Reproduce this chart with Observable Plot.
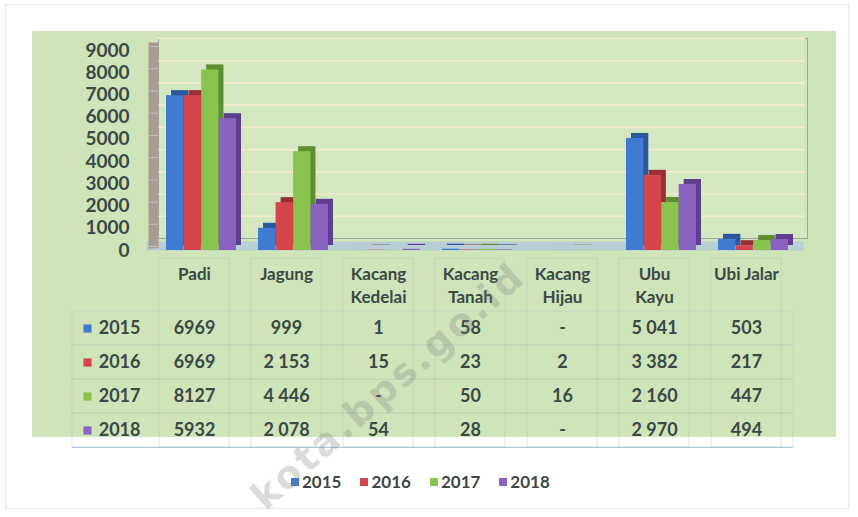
<!DOCTYPE html>
<html>
<head>
<meta charset="utf-8">
<script src="https://cdn.jsdelivr.net/npm/d3@7"></script>
<script src="https://cdn.jsdelivr.net/npm/@observablehq/plot@0.6"></script>
<style>
  html, body { margin: 0; padding: 0; background: #ffffff; }
  #page { position: relative; width: 858px; height: 517px; overflow: hidden; background: #ffffff; font-family: Lato, "Open Sans", sans-serif; }
  #border { position: absolute; left: 5px; top: 4px; width: 842px; height: 503px; border: 1px solid #e6e6e6; }
  #panel { position: absolute; left: 32px; top: 31px; width: 804px; height: 406px; background: #cfe4b9; }
  #table, #chart { position: absolute; left: 0; }
  #table { top: 255px; }
  #chart { top: 0; }
  #legend { position: absolute; left: 291px; top: 471px; display: flex; align-items: center; font-weight: 700; font-size: 17px; color: #3b4846; }
  #legend .item { display: flex; align-items: center; margin-right: 19px; }
  #legend .sw { width: 8px; height: 8px; margin-right: 3px; }
  #wm { position: absolute; left: 388px; top: 386px; transform: translate(-50%, -50%) rotate(-41.5deg); white-space: nowrap;
        font-family: "DejaVu Sans", sans-serif; font-weight: 700; font-size: 38px; letter-spacing: 3px;
        color: rgba(128,128,128,0.28); pointer-events: none; }
</style>
</head>
<body>
<div id="page">
  <div id="border"></div>
  <div id="panel"></div>
  <div id="table"></div>
  <div id="chart"></div>
  <div id="legend"></div>
  <div id="wm">kota.bps.go.id</div>
</div>
<script>
// ---- data ----
const categories = ["Padi", "Jagung", "Kacang Kedelai", "Kacang Tanah", "Kacang Hijau", "Ubu Kayu", "Ubi Jalar"];
const categoryLabels = ["Padi", "Jagung", "Kacang\nKedelai", "Kacang\nTanah", "Kacang\nHijau", "Ubu\nKayu", "Ubi Jalar"];
const years = ["2015", "2016", "2017", "2018"];
const v2015 = [6969, 999, 1, 58, null, 5041, 503];
const v2016 = [6969, 2153, 15, 23, 2, 3382, 217];
const v2017 = [8127, 4446, null, 50, 16, 2160, 447];
const v2018 = [5932, 2078, 54, 28, null, 2970, 494];
const t2015 = ["6969", "999", "1", "58", "-", "5 041", "503"];
const t2016 = ["6969", "2 153", "15", "23", "2", "3 382", "217"];
const t2017 = ["8127", "4 446", "-", "50", "16", "2 160", "447"];
const t2018 = ["5932", "2 078", "54", "28", "-", "2 970", "494"];
const yTicks = [0, 1000, 2000, 3000, 4000, 5000, 6000, 7000, 8000, 9000];

// ---- styles ----
const colors = ["#3f7ad3", "#d4464b", "#8bc34f", "#8a62c0"];
const sideColors = ["#2a579c", "#992f34", "#5e8e31", "#5d3f8e"];
const textColor = "#3b4846";

const values = [v2015, v2016, v2017, v2018];
const texts = [t2015, t2016, t2017, t2018];
const rows = [];
years.forEach((yr, i) => categories.forEach((c, j) => rows.push({year: yr, cat: c, value: values[i][j], label: texts[i][j]})));

const W = 858, ML = 146, MR = 65;
const padIn = 0.24, padOut = 0.12;
const step = (W - ML - MR) / (categories.length - padIn + 2 * padOut);
const bw = step * (1 - padIn) / 4;
const depth = 5, shift = 7;

const barMarks = [];
years.forEach((yr, i) => {
  const d = rows.filter(r => r.year === yr && r.value != null);
  const common = {x: "cat", y: "value", insetLeft: i * bw, insetRight: (3 - i) * bw};
  barMarks.push(Plot.barY(d, {...common, fill: sideColors[i], dx: shift + depth, dy: -depth}));
  barMarks.push(Plot.barY(d, {...common, fill: colors[i], dx: shift}));
});

const chart = Plot.plot({
  width: W, height: 310,
  marginLeft: ML, marginRight: MR, marginTop: 50, marginBottom: 60,
  style: {background: "transparent", fontFamily: "Lato, 'Open Sans', sans-serif", fontSize: "19px", fontWeight: 700, color: textColor, overflow: "visible"},
  x: {domain: categories, paddingInner: padIn, paddingOuter: padOut, axis: null},
  y: {domain: [0, 9000], ticks: yTicks, tickFormat: d3.format("d"), tickSize: 0, tickPadding: 17, label: null},
  marks: [
    // back wall
    Plot.frame({fill: "#d3e7c0", stroke: "#9aa69c", dx: 12, dy: -12, insetRight: -2}),
    // grid lines on the back wall
    Plot.ruleY(yTicks.slice(1), {stroke: "#f6ebcf", strokeWidth: 1.6, dx: 12, dy: -12}),
    // floor
    Plot.frame({fill: "#b7ced4", insetTop: 191, insetBottom: 0, insetRight: -10}),
    // left wall
    Plot.frame({fill: "#a89b94", insetLeft: 2, insetRight: (W - ML - MR) - 12, insetTop: -8, insetBottom: 2}),
    Plot.ruleY(yTicks, {stroke: "#c9bdb5", strokeWidth: 1, insetLeft: 2, insetRight: (W - ML - MR) - 12, dy: -4}),
    ...barMarks,
    Plot.text(categoryLabels, {x: (d, i) => categories[i], frameAnchor: "bottom", lineAnchor: "top", dy: 13,
      text: d => d, fontSize: 17, fontWeight: 700, lineHeight: 1.35, fill: textColor})
  ]
});
document.getElementById("chart").appendChild(chart);

const lineColor = "#b3c6bd";
const table = Plot.plot({
  width: W, height: 195,
  marginLeft: ML, marginRight: MR, marginTop: 55, marginBottom: 3,
  style: {background: "transparent", fontFamily: "Lato, 'Open Sans', sans-serif", fontSize: "18px", fontWeight: 700, color: textColor, overflow: "visible"},
  x: {domain: categories, paddingInner: padIn, paddingOuter: padOut, axis: null},
  y: {domain: years, padding: 0, tickSize: 0, tickPadding: 6, label: null},
  marks: [
    Plot.cell(years, {y: d => d, fill: "none", stroke: lineColor, strokeOpacity: 0.45, insetLeft: -74}),
    Plot.cell(categories, {x: d => d, fill: "none", stroke: lineColor, strokeOpacity: 0.45, insetTop: -52}),
    Plot.ruleY(["2018"], {y: d => d, stroke: "#a9c8e4", dy: 17, insetLeft: -74}),
    Plot.dot(years, {y: d => d, frameAnchor: "left", dx: -59, symbol: "square", r: 4.6, fill: (d, i) => colors[i], stroke: "none"}),
    Plot.text(rows, {x: "cat", y: "year", text: "label", fontSize: 18, fontWeight: 700, fill: textColor})
  ]
});
document.getElementById("table").appendChild(table);

// legend
const legend = document.getElementById("legend");
years.forEach((yr, i) => {
  const item = document.createElement("div");
  item.className = "item";
  const sw = document.createElement("span");
  sw.className = "sw";
  sw.style.background = colors[i];
  const tx = document.createElement("span");
  tx.textContent = yr;
  item.appendChild(sw); item.appendChild(tx);
  legend.appendChild(item);
});
</script>
</body>
</html>
